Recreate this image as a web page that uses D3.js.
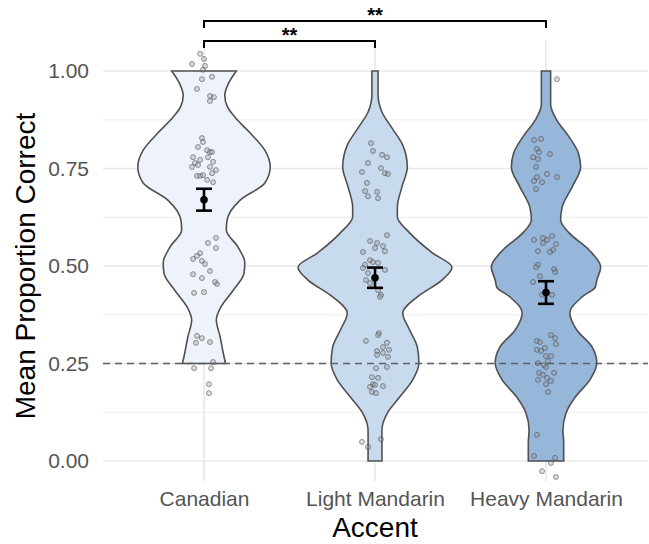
<!DOCTYPE html>
<html lang="en">
<meta charset="utf-8">
<title>Accent violins</title>
<style>
    body { margin: 0; background: white; }
    text { font-family: "Liberation Sans", Arial, sans-serif; }
</style>
<body>
<svg id="canvas"></svg>
<script src="https://cdn.jsdelivr.net/npm/d3@7"></script>
<script>

    //////////////////////// Data /////////////////////////
    var accents     = ["Canadian", "Light Mandarin", "Heavy Mandarin"];
    var y_ticks     = [0, 0.25, 0.5, 0.75, 1];
    var y_minor     = [0.125, 0.375, 0.625, 0.875];
    var chance      = 0.25;

    // violin outlines: [proportion, relative density]
    var dens_can = [[1.000,.42],[0.969,.32],[0.938,.27],[0.910,.30],[0.882,.40],[0.841,.60],
                    [0.797,.79],[0.754,.86],[0.713,.79],[0.669,.47],[0.618,.30],[0.592,.29],
                    [0.549,.44],[0.508,.53],[0.482,.52],[0.438,.38],[0.395,.22],[0.362,.16],
                    [0.318,.21],[0.277,.25],[0.250,.28]];
    var dens_lm  = [[1.000,.04],[0.940,.04],[0.895,.09],[0.851,.23],[0.810,.36],[0.754,.42],
                    [0.703,.35],[0.651,.29],[0.626,.29],[0.585,.45],[0.533,.75],[0.497,1.00],
                    [0.464,.87],[0.421,.55],[0.379,.36],[0.336,.45],[0.292,.55],[0.251,.57],
                    [0.208,.49],[0.164,.32],[0.123,.16],[0.079,.09],[0.000,.09]];
    var dens_hm  = [[1.000,.06],[0.915,.06],[0.874,.14],[0.831,.30],[0.790,.42],[0.754,.45],
                    [0.703,.34],[0.651,.21],[0.618,.19],[0.585,.30],[0.541,.56],[0.497,.71],
                    [0.464,.66],[0.446,.64],[0.421,.47],[0.379,.31],[0.336,.40],[0.292,.60],
                    [0.251,.66],[0.208,.57],[0.164,.38],[0.123,.26],[0.079,.22],[0.046,.23],
                    [0.000,.23]];
    var densities = [dens_can, dens_lm, dens_hm];

    // participants: [jitter (fraction of a category step), proportion]
    var pts_can = [[-.023,1.044],[0,1.031],[-.070,1.018],[.006,1.013],[-.006,1.003],[-.012,.979],
                   [.047,.985],[-.041,.954],[.035,.936],[.058,.933],[.035,.923],[-.012,.828],
                   [-.006,.818],[-.035,.805],[.018,.797],[.035,.792],[.047,.792],[.023,.779],
                   [-.064,.779],[-.023,.772],[-.053,.764],[.053,.767],[-.070,.754],[-.035,.759],
                   [.035,.754],[.070,.746],[.047,.738],[-.041,.731],[-.023,.731],[-.006,.733],
                   [.018,.721],[.053,.715],[.070,.572],[.023,.559],[.070,.546],[-.023,.533],
                   [-.041,.526],[-.064,.518],[-.012,.513],[.006,.505],[.035,.487],[-.064,.479],
                   [-.012,.469],[.076,.454],[.064,.459],[-.058,.431],[0,.433],[-.041,.321],
                   [-.012,.315],[-.047,.303],[.035,.305],[.053,.254],[-.058,.238],[.041,.238],
                   [.029,.197],[.029,.174]];
    var pts_lm  = [[-.023,.815],[-.012,.795],[.041,.785],[.070,.779],[-.041,.764],[.035,.751],
                   [.058,.738],[.076,.736],[-.076,.741],[-.047,.713],[-.058,.692],[.012,.690],
                   [-.041,.679],[.018,.674],[.070,.579],[-.029,.564],[.012,.559],[.047,.551],
                   [0,.546],[.058,.538],[-.070,.536],[-.029,.515],[-.012,.510],[.018,.508],
                   [-.058,.503],[-.070,.495],[.058,.490],[-.041,.482],[-.053,.464],[-.029,.456],
                   [.018,.438],[.035,.426],[.029,.421],[.023,.328],[.018,.323],[-.053,.308],
                   [.070,.303],[.047,.292],[.082,.285],[.012,.282],[.047,.277],[.012,.272],
                   [.076,.267],[.006,.238],[.070,.241],[-.018,.215],[.018,.213],[-.012,.197],
                   [0,.195],[.047,.192],[-.029,.190],[-.018,.177],[.006,.174],[-.076,.049],
                   [-.041,.036],[.035,.056]];
    var pts_hm  = [[.064,.979],[-.070,.823],[-.029,.826],[-.053,.800],[-.041,.792],[.023,.787],
                   [-.076,.779],[-.047,.774],[-.058,.754],[.006,.736],[.064,.728],[-.053,.728],
                   [-.070,.718],[-.023,.715],[-.058,.697],[-.070,.567],[-.018,.572],[.006,.567],
                   [.035,.577],[-.018,.559],[.058,.556],[-.047,.538],[.041,.541],[.023,.536],
                   [-.047,.503],[-.058,.497],[.047,.492],[.053,.485],[-.035,.474],[-.076,.459],
                   [-.023,.426],[.035,.426],[.029,.323],[.053,.315],[-.053,.308],[-.035,.305],
                   [.058,.300],[-.053,.285],[-.029,.282],[-.006,.290],[0,.269],[.029,.269],
                   [.012,.256],[-.047,.251],[-.012,.246],[0,.241],[-.041,.226],[.047,.226],
                   [-.018,.221],[.006,.213],[-.047,.208],[.029,.205],[0,.197],[.012,.177],
                   [-.053,.067],[-.070,.013],[.053,.008],[.029,-.005],[-.023,-.026],[.058,-.041]];
    var points = [pts_can, pts_lm, pts_hm];

    var means   = [0.670, 0.470, 0.432];
    var ses     = [0.028, 0.026, 0.029];

    // significance brackets: [from, to, label]
    var brackets = [[0, 1, "**"], [0, 2, "**"]];
    ///////////////////////////////////////////////////////

    ///////// Position and Dimension Variables ////////////
    var dimensions  = [649, 544];
    var panel_left  = 103;
    var panel_right = 648;
    var panel_top   = 71;
    var panel_bot   = 461;
    var max_half_w  = 77;
    var bracket_y   = [41, 21];
    ///////////////////////////////////////////////////////

    ///////////////// Style Variables /////////////////////
    var fills       = ['#eef3fb', '#c7daee', '#96b6da'];
    var grid_color  = '#e8e8e8';
    var tick_color  = '#555555';
    var tick_size   = 21;
    var title_size  = 28;
    ///////////////////////////////////////////////////////

    var canvas = d3.select("#canvas")
        .attr('width',  dimensions[0])
        .attr('height', dimensions[1]);

    var x = d3.scalePoint()
        .domain(accents)
        .range([204, 546]);
    var step = x.step();

    var y = d3.scaleLinear()
        .domain([0, 1])
        .range([panel_bot, panel_top]);

    var w = d3.scaleLinear()
        .domain([0, 1])
        .range([0, max_half_w]);

    ////////////////////// grid ///////////////////////////
    var grid = canvas.append("g");
    grid.selectAll("line.minor")
        .data(y_minor).enter().append("line")
        .attr('x1', panel_left).attr('x2', panel_right)
        .attr('y1', d => y(d)).attr('y2', d => y(d))
        .attr('stroke', grid_color)
        .attr('stroke-width', 0.8);
    grid.selectAll("line.major")
        .data(y_ticks).enter().append("line")
        .attr('x1', panel_left).attr('x2', panel_right)
        .attr('y1', d => y(d)).attr('y2', d => y(d))
        .attr('stroke', grid_color)
        .attr('stroke-width', 1.6);
    grid.selectAll("line.vert")
        .data(accents).enter().append("line")
        .attr('x1', d => x(d)).attr('x2', d => x(d))
        .attr('y1', 40).attr('y2', 481)
        .attr('stroke', grid_color)
        .attr('stroke-width', 1.6);
    ///////////////////////////////////////////////////////

    //////////////////// y axis ///////////////////////////
    var yAxis = d3.axisLeft(y)
        .tickValues(y_ticks)
        .tickFormat(d3.format(".2f"))
        .tickSize(0)
        .tickPadding(14);
    var yg = canvas.append("g")
        .attr('transform', 'translate(' + panel_left + ',0)')
        .call(yAxis);
    yg.select(".domain").remove();
    yg.selectAll("text")
        .attr('fill', tick_color)
        .attr('font-size', tick_size)
        .style('font-family', '"Liberation Sans", Arial, sans-serif');

    //////////////////// x axis ///////////////////////////
    var xAxis = d3.axisBottom(x)
        .tickSize(0)
        .tickPadding(30);
    var xg = canvas.append("g")
        .attr('transform', 'translate(0,' + panel_bot + ')')
        .call(xAxis);
    xg.select(".domain").remove();
    xg.selectAll("text")
        .attr('fill', tick_color)
        .attr('font-size', tick_size)
        .style('font-family', '"Liberation Sans", Arial, sans-serif');

    canvas.append("text")
        .attr('x', 375)
        .attr('y', 537)
        .attr('text-anchor', 'middle')
        .attr('font-size', title_size)
        .attr('fill', 'black')
        .text("Accent");
    canvas.append("text")
        .attr('transform', 'translate(35,' + ((panel_top + panel_bot) / 2) + ') rotate(-90)')
        .attr('text-anchor', 'middle')
        .attr('font-size', title_size)
        .attr('fill', 'black')
        .text("Mean Proportion Correct");
    ///////////////////////////////////////////////////////

    ///////////////////// violins /////////////////////////
    accents.forEach(function (a, i) {
        var cx = x(a);
        var area = d3.area()
            .curve(d3.curveMonotoneY)
            .y (d => y(d[0]))
            .x0(d => cx - w(d[1]))
            .x1(d => cx + w(d[1]));
        canvas.append("path")
            .datum(densities[i])
            .attr('d', area)
            .attr('fill', fills[i])
            .attr('stroke', '#505050')
            .attr('stroke-width', 1.6);
    });
    ///////////////////////////////////////////////////////

    ///////////////// chance line /////////////////////////
    canvas.append("line")
        .attr('x1', panel_left).attr('x2', panel_right)
        .attr('y1', y(chance)).attr('y2', y(chance))
        .attr('stroke', '#606060')
        .attr('stroke-width', 1.7)
        .attr('stroke-dasharray', '7,5');
    ///////////////////////////////////////////////////////

    ///////////////////// points //////////////////////////
    accents.forEach(function (a, i) {
        canvas.append("g").selectAll("circle")
            .data(points[i]).enter().append("circle")
            .attr('cx', d => x(a) + d[0] * step)
            .attr('cy', d => y(d[1]))
            .attr('r', 2.5)
            .attr('fill', '#9a9a9a')
            .attr('fill-opacity', 0.35)
            .attr('stroke', '#3a3a3a')
            .attr('stroke-opacity', 0.55)
            .attr('stroke-width', 0.9);
    });
    ///////////////////////////////////////////////////////

    ///////////////////// mean +/- se /////////////////////
    accents.forEach(function (a, i) {
        var cx = x(a), lo = y(means[i] - ses[i]), hi = y(means[i] + ses[i]);
        var g = canvas.append("g")
            .attr('stroke', 'black')
            .attr('stroke-width', 2.6);
        g.append("line").attr('x1', cx).attr('x2', cx).attr('y1', lo).attr('y2', hi);
        g.append("line").attr('x1', cx - 8).attr('x2', cx + 8).attr('y1', lo).attr('y2', lo);
        g.append("line").attr('x1', cx - 8).attr('x2', cx + 8).attr('y1', hi).attr('y2', hi);
        canvas.append("circle")
            .attr('cx', cx)
            .attr('cy', y(means[i]))
            .attr('r', 3.8)
            .attr('fill', 'black');
    });
    ///////////////////////////////////////////////////////

    /////////////////// brackets //////////////////////////
    brackets.forEach(function (b, i) {
        var x1 = x(accents[b[0]]), x2 = x(accents[b[1]]), by = bracket_y[i];
        canvas.append("path")
            .attr('d', 'M' + x1 + ',' + (by + 7) + 'V' + by + 'H' + x2 + 'V' + (by + 7))
            .attr('fill', 'none')
            .attr('stroke', 'black')
            .attr('stroke-width', 2);
        canvas.append("text")
            .attr('x', (x1 + x2) / 2)
            .attr('y', by + 1)
            .attr('text-anchor', 'middle')
            .attr('font-size', 20)
            .attr('font-weight', 'bold')
            .text(b[2]);
    });
    ///////////////////////////////////////////////////////

</script>
</body>
</html>
